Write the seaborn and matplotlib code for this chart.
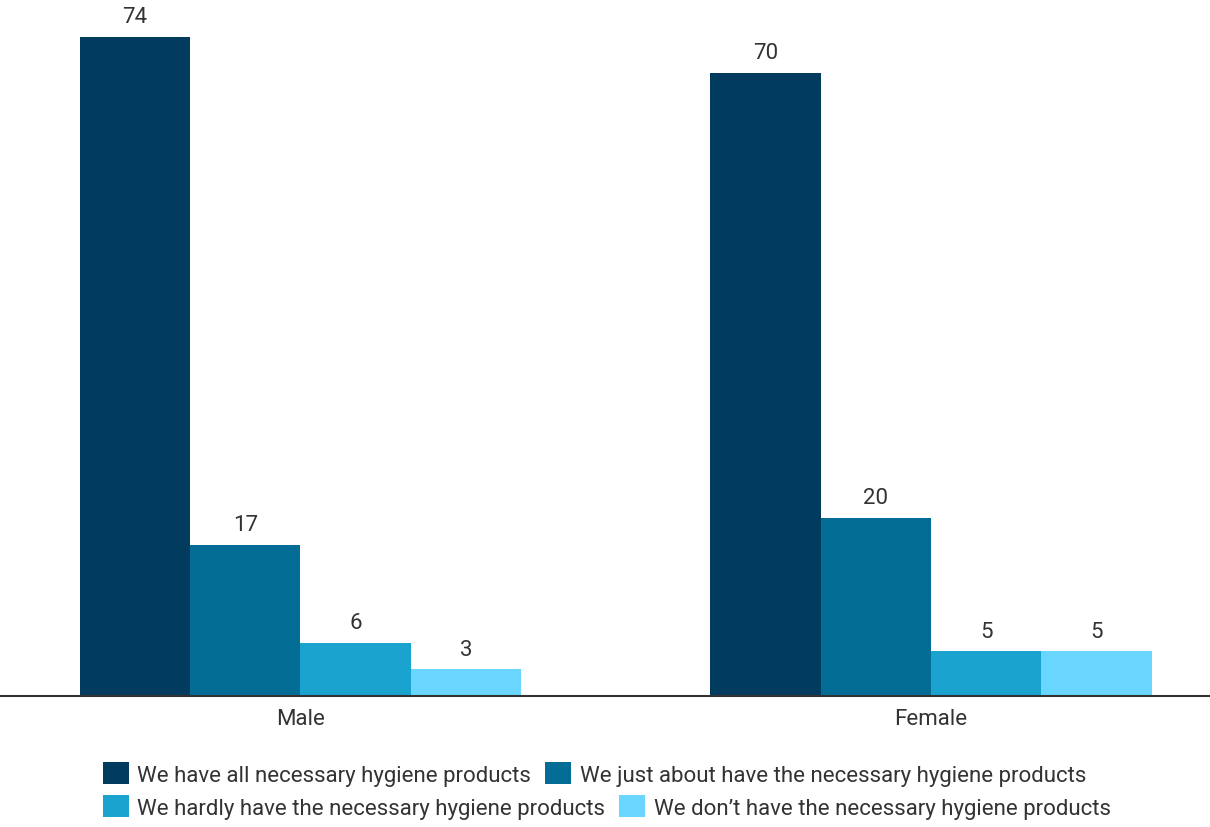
import matplotlib
matplotlib.use("Agg")
import matplotlib.pyplot as plt
import seaborn as sns
import pandas as pd

# Survey answers by gender (percent)
genders = ["Male", "Female"]
answers = [
    "We have all necessary hygiene products",
    "We just about have the necessary hygiene products",
    "We hardly have the necessary hygiene products",
    "We don\u2019t have the necessary hygiene products",
]
male_values = [74, 17, 6, 3]
female_values = [70, 20, 5, 5]
colors = ["#013C5E", "#036D96", "#1BA3CF", "#68D6FE"]

rows = []
for g, vals in zip(genders, [male_values, female_values]):
    for a, v in zip(answers, vals):
        rows.append({"gender": g, "answer": a, "value": v})
df = pd.DataFrame(rows)

sns.set_theme(style="white")
plt.rcParams["font.family"] = ["Roboto", "DejaVu Sans"]
text_color = "#333333"

fig = plt.figure(figsize=(12.1, 8.28), dpi=100)
ax = fig.add_axes([0, 1 - 697 / 828, 1, 697 / 828])

sns.barplot(data=df, x="gender", y="value", hue="answer", hue_order=answers,
            order=genders, palette=colors, saturation=1, width=0.7, gap=0,
            edgecolor="none", linewidth=0, ax=ax, legend=True)

for cont in ax.containers:
    ax.bar_label(cont, fmt="%g", padding=7, fontsize=16, color=text_color)

ax.set_xlim(-0.4766, 1.4425)
ax.set_ylim(0, 78.27)
ax.set_xlabel("")
ax.set_ylabel("")
ax.set_yticks([])
ax.tick_params(axis="x", length=0, pad=9, labelsize=16, labelcolor=text_color)
for side in ["left", "right", "top"]:
    ax.spines[side].set_visible(False)
ax.spines["bottom"].set_color("#333333")
ax.spines["bottom"].set_linewidth(1.5)

handles, labels = ax.get_legend_handles_labels()
ax.get_legend().remove()

common = dict(frameon=False, ncol=2, fontsize=16, handlelength=1.15,
              handleheight=1.15, handletextpad=0.4, columnspacing=0.62,
              borderpad=0, borderaxespad=0, labelcolor=text_color)
leg1 = fig.legend(handles[:2], labels[:2], loc="center left",
                  bbox_to_anchor=(103 / 1210, 1 - 775 / 828), **common)
leg2 = fig.legend(handles[2:], labels[2:], loc="center left",
                  bbox_to_anchor=(103 / 1210, 1 - 808 / 828), **common)

fig.savefig("out.png", dpi=100)
